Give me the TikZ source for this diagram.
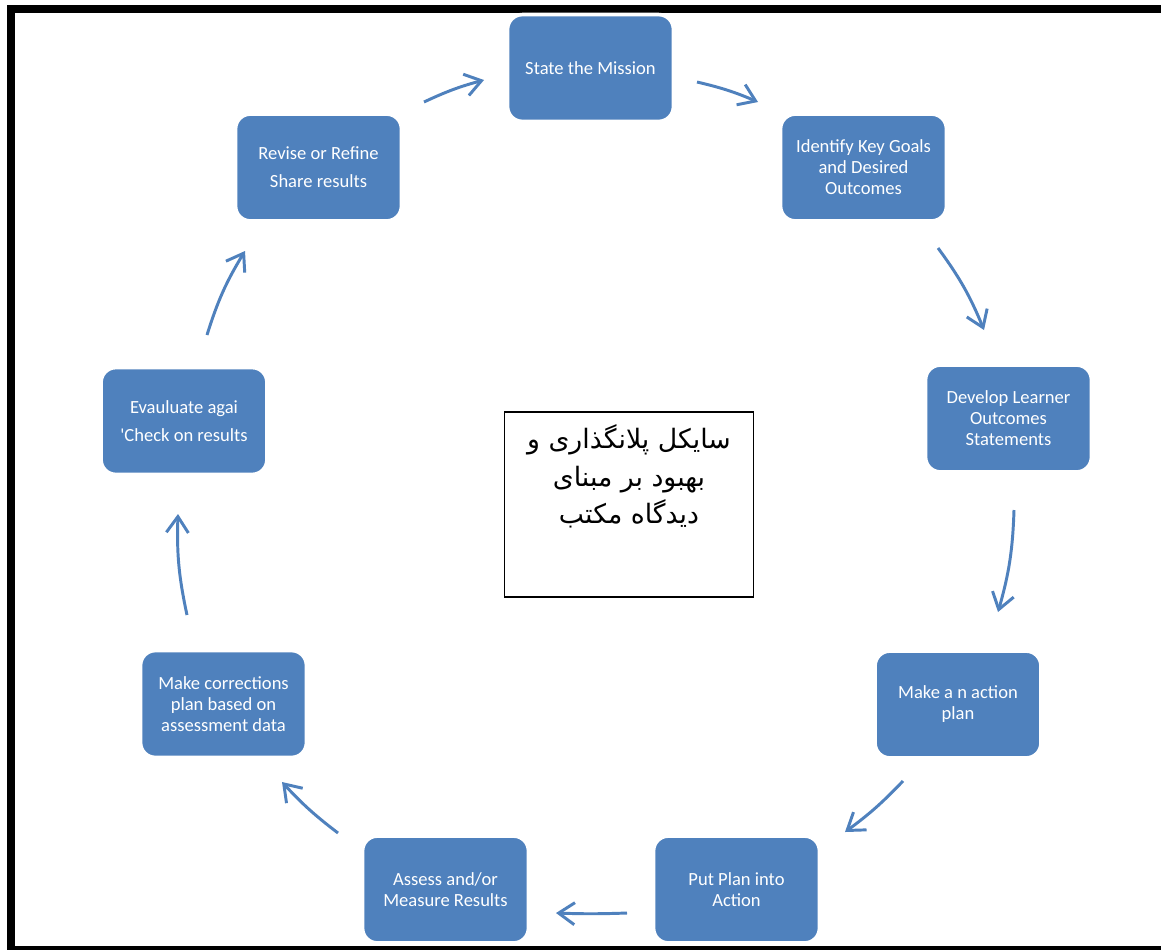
\documentclass[tikz,border=0pt]{standalone}
\usepackage{fontspec}
\setmainfont{Carlito}[Ligatures=TeXOff]
\newfontfamily\arabicfont[Script=Arabic]{DejaVu Sans}
\TeXXeTstate=1
\usetikzlibrary{arrows.meta}
\definecolor{boxblue}{HTML}{4F81BD}
\definecolor{arrowblue}{HTML}{4F81BD}
\begin{document}
\begin{tikzpicture}[x=0.025cm,y=-0.025cm,
  stepbox/.style={rectangle, rounded corners=10.5pt, fill=boxblue, draw=white,
    line width=2.6pt, minimum width=118pt, minimum height=76pt, inner sep=2pt,
    text=white, align=center, font=\fontsize{13.2}{14.9}\selectfont},
  widebox/.style={stepbox, font=\fontsize{13.2}{19.8}\selectfont},
  cyclearrow/.style={draw=arrowblue, line width=2.1pt,
    -{Straight Barb[length=4mm,width=5.5mm,line width=2.1pt]}},
  titlebox/.style={rectangle, draw=black, line width=1.3pt, fill=white,
    minimum width=177pt, minimum height=131pt}]
\useasboundingbox (0,0) rectangle (1161,949);
\fill[white] (0,0) rectangle (1161,949);
% outer frame (right side lies beyond the picture)
\draw[line width=5.7pt] (1161,9) -- (11,9) -- (11,949.5) -- (1161,949.5);

% boxes
\node[stepbox] (mission) at (590.5,68) {State the Mission};
\node[stepbox] (goals) at (863.5,167.5) {Identify Key Goals\\and Desired\\Outcomes};
\node[stepbox] (learner) at (1008.5,418.5) {Develop Learner\\Outcomes\\Statements};
\node[stepbox] (plan) at (958,704.5) {Make a n action\\plan};
\node[stepbox] (action) at (736.5,889.5) {Put Plan into\\Action};
\node[stepbox] (assess) at (445.5,889.5) {Assess and/or\\Measure Results};
\node[stepbox] (corrections) at (223.5,704) {Make corrections\\plan based on\\assessment data};
\node[widebox] (evaluate) at (184,421) {Evauluate agai\\'Check on results};
\node[widebox] (revise) at (318.5,167.5) {Revise or Refine\\Share results};

% central title box
\node[titlebox] (title) at (629,504.5) {};
\node[anchor=north, align=center, font=\arabicfont\fontsize{19}{26.5}\selectfont] (titletext) at (629,420)
  {\beginR سایکل پلانگذاری و\endR\\ \beginR بهبود بر مبنای\endR\\ \beginR دیدگاه مکتب\endR};

% arrow end points
\coordinate (a1s) at (424,102); \coordinate (a1e) at (484,80);
\coordinate (a2s) at (697,82);  \coordinate (a2e) at (758,102);
\coordinate (a3s) at (938,248); \coordinate (a3e) at (984,330);
\coordinate (a4s) at (1014,510); \coordinate (a4e) at (998,612);
\coordinate (a5s) at (903,781); \coordinate (a5e) at (845,832);
\coordinate (a6s) at (627,913); \coordinate (a6e) at (556,913);
\coordinate (a7s) at (338,833); \coordinate (a7e) at (282,782);
\coordinate (a8s) at (187,615); \coordinate (a8e) at (178,514);
\coordinate (a9s) at (207,335); \coordinate (a9e) at (245,251);

\draw[cyclearrow] (a1s) to[bend left=5] (a1e);
\draw[cyclearrow] (a2s) to[bend left=5] (a2e);
\draw[cyclearrow] (a3s) to[bend left=7] (a3e);
\draw[cyclearrow] (a4s) to[bend left=7] (a4e);
\draw[cyclearrow] (a5s) to[bend left=5] (a5e);
\draw[cyclearrow] (a6s) to[bend left=2] (a6e);
\draw[cyclearrow] (a7s) to[bend left=5] (a7e);
\draw[cyclearrow] (a8s) to[bend left=7] (a8e);
\draw[cyclearrow] (a9s) to[bend left=7] (a9e);
\end{tikzpicture}
\end{document}
